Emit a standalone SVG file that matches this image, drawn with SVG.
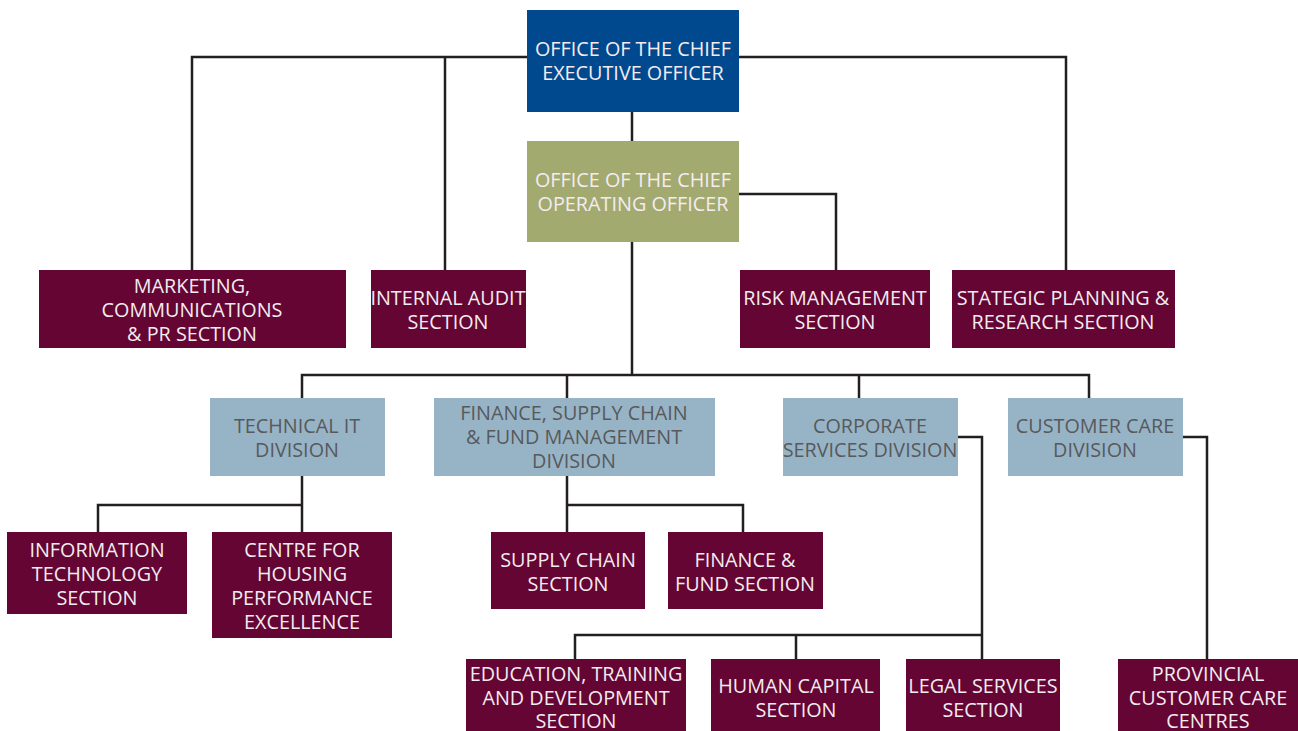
<svg xmlns="http://www.w3.org/2000/svg" width="1298" height="731" viewBox="0 0 1298 731">
<style>
.ln{fill:none;stroke:#231F20;stroke-width:2.5}
.m{fill:#640533}
.d{fill:#97B4C7}
text{font-family:"Open Sans","Noto Sans",sans-serif;font-size:19.8px;text-anchor:middle}
.w{fill:#F3ECF0}
.g{fill:#58595B}
</style>
<rect width="1298" height="731" fill="#fff"/>
<g id="connectors">
<path class="ln" d="M192 270V57H1066V270M445 57V270M632 112V141M739 194H836V270M632 242V375M302 398V375H1089V398M567 375V398M859 375V398"/>
<path class="ln" d="M302 476V505M98 532V505H302V532M567 476V532M567 505H743V532"/>
<path class="ln" d="M958 437H982V659M575 659V635H982M796 635V659M1183 437H1207V659"/>
</g>
<g id="ceo"><rect x="527" y="10" width="212" height="102" fill="#00498F"/><text class="w" x="633" y="56">OFFICE OF THE CHIEF</text><text class="w" x="633" y="80">EXECUTIVE OFFICER</text></g>
<g id="coo"><rect x="527" y="141" width="212" height="101" fill="#A3AA70"/><text class="w" x="633" y="187">OFFICE OF THE CHIEF</text><text class="w" x="633" y="211">OPERATING OFFICER</text></g>
<g id="marketing"><rect class="m" x="39" y="270" width="307" height="78"/><text class="w" x="192" y="293">MARKETING,</text><text class="w" x="192" y="317">COMMUNICATIONS</text><text class="w" x="192" y="341">&amp; PR SECTION</text></g>
<g id="audit"><rect class="m" x="371" y="270" width="155" height="78"/><text class="w" x="448" y="305">INTERNAL AUDIT</text><text class="w" x="448" y="329">SECTION</text></g>
<g id="risk"><rect class="m" x="740" y="270" width="190" height="78"/><text class="w" x="835" y="305">RISK MANAGEMENT</text><text class="w" x="835" y="329">SECTION</text></g>
<g id="strategic"><rect class="m" x="952" y="270" width="223" height="78"/><text class="w" x="1063" y="305">STATEGIC PLANNING &amp;</text><text class="w" x="1063" y="329">RESEARCH SECTION</text></g>
<g id="techit"><rect class="d" x="210" y="398" width="175" height="78"/><text class="g" x="297" y="433">TECHNICAL IT</text><text class="g" x="297" y="457">DIVISION</text></g>
<g id="finance"><rect class="d" x="434" y="398" width="281" height="78"/><text class="g" x="574" y="420">FINANCE, SUPPLY CHAIN</text><text class="g" x="574" y="444">&amp; FUND MANAGEMENT</text><text class="g" x="574" y="468">DIVISION</text></g>
<g id="corporate"><rect class="d" x="783" y="398" width="175" height="78"/><text class="g" x="870" y="433">CORPORATE</text><text class="g" x="870" y="457">SERVICES DIVISION</text></g>
<g id="customer"><rect class="d" x="1008" y="398" width="175" height="78"/><text class="g" x="1095" y="433">CUSTOMER CARE</text><text class="g" x="1095" y="457">DIVISION</text></g>
<g id="itsection"><rect class="m" x="7" y="532" width="180" height="82"/><text class="w" x="97" y="557">INFORMATION</text><text class="w" x="97" y="581">TECHNOLOGY</text><text class="w" x="97" y="605">SECTION</text></g>
<g id="centre"><rect class="m" x="212" y="532" width="180" height="106"/><text class="w" x="302" y="557">CENTRE FOR</text><text class="w" x="302" y="581">HOUSING</text><text class="w" x="302" y="605">PERFORMANCE</text><text class="w" x="302" y="629">EXCELLENCE</text></g>
<g id="supply"><rect class="m" x="491" y="532" width="154" height="77"/><text class="w" x="568" y="567">SUPPLY CHAIN</text><text class="w" x="568" y="591">SECTION</text></g>
<g id="fundsection"><rect class="m" x="668" y="532" width="155" height="77"/><text class="w" x="745" y="567">FINANCE &amp;</text><text class="w" x="745" y="591">FUND SECTION</text></g>
<g id="education"><rect class="m" x="466" y="659" width="220" height="72"/><text class="w" x="576" y="681">EDUCATION, TRAINING</text><text class="w" x="576" y="705">AND DEVELOPMENT</text><text class="w" x="576" y="728">SECTION</text></g>
<g id="human"><rect class="m" x="711" y="659" width="169" height="72"/><text class="w" x="796" y="693">HUMAN CAPITAL</text><text class="w" x="796" y="717">SECTION</text></g>
<g id="legal"><rect class="m" x="906" y="659" width="154" height="72"/><text class="w" x="983" y="693">LEGAL SERVICES</text><text class="w" x="983" y="717">SECTION</text></g>
<g id="provincial"><rect class="m" x="1118" y="659" width="180" height="72"/><text class="w" x="1208" y="681">PROVINCIAL</text><text class="w" x="1208" y="705">CUSTOMER CARE</text><text class="w" x="1208" y="728">CENTRES</text></g>
</svg>
